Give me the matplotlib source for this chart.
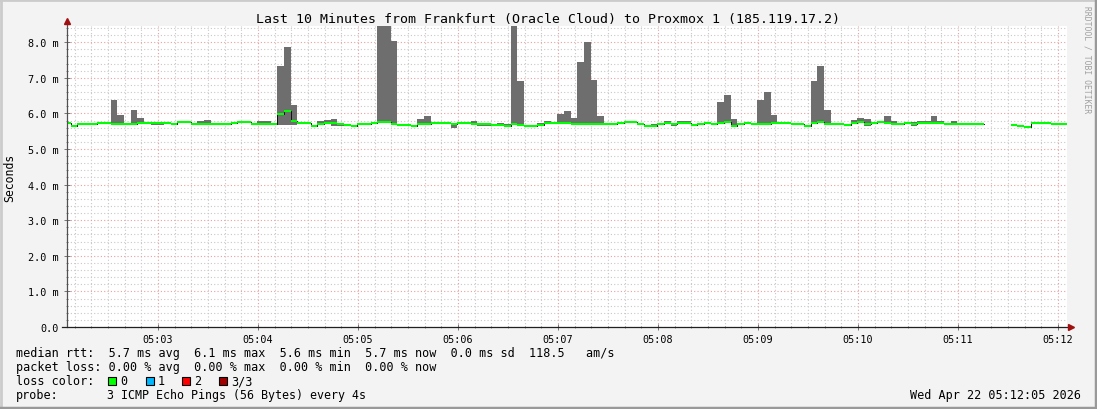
import numpy as np
import matplotlib
matplotlib.use("Agg")
import matplotlib.pyplot as plt
from matplotlib.patches import Rectangle
from matplotlib.lines import Line2D

plt.rcParams['font.family'] = ['DejaVu Sans Mono']

# samples every 4 s, start times in seconds after 05:00:00
t_first = 123.6
step = 4.0
nan = np.nan

# median rtt per sample (ms)
median = [
    5.74, 5.66, 5.69, 5.69, 5.69, 5.72, 5.74, 5.69, 5.69, 5.69,
    5.70, 5.72, 5.74, 5.72, 5.74, 5.74, 5.70, 5.77, 5.77, 5.71,
    5.69, 5.69, 5.71, 5.71, 5.71, 5.72, 5.75, 5.77, 5.71, 5.71,
    5.71, 5.69, 5.97, 6.08, 5.80, 5.72, 5.72, 5.66, 5.70, 5.72,
    5.72, 5.70, 5.67, 5.66, 5.71, 5.71, 5.74, 5.77, 5.77, 5.69,
    5.68, 5.68, 5.66, 5.69, 5.71, 5.72, 5.72, 5.72, 5.69, 5.72,
    5.72, 5.71, 5.70, 5.70, 5.68, 5.67, 5.66, 5.69, 5.67, 5.64,
    5.64, 5.67, 5.72, 5.72, 5.72, 5.72, 5.70, 5.70, 5.70, 5.70,
    5.70, 5.70, 5.70, 5.72, 5.75, 5.75, 5.69, 5.66, 5.66, 5.69,
    5.72, 5.70, 5.72, 5.72, 5.67, 5.70, 5.72, 5.69, 5.74, 5.77,
    5.66, 5.69, 5.72, 5.70, 5.69, 5.70, 5.72, 5.72, 5.72, 5.69,
    5.69, 5.64, 5.72, 5.75, 5.69, 5.69, 5.69, 5.67, 5.74, 5.76,
    5.69, 5.74, 5.77, 5.74, 5.70, 5.70, 5.72, 5.70, 5.72, 5.73,
    5.73, 5.72, 5.70, 5.70, 5.70, 5.70, 5.70, 5.70, nan, nan,
    nan, nan, 5.68, 5.65, 5.62, 5.72, 5.74, 5.74, 5.71, 5.71, 5.71,
]

# highest ping per sample (ms)
smoke_hi = [
    5.75, 5.67, 5.70, 5.74, 5.70, 5.73, 5.75, 6.38, 5.96, 5.74,
    6.10, 5.87, 5.75, 5.73, 5.75, 5.75, 5.74, 5.78, 5.78, 5.72,
    5.79, 5.82, 5.72, 5.72, 5.72, 5.73, 5.76, 5.78, 5.72, 5.79,
    5.79, 5.70, 7.33, 7.87, 6.23, 5.74, 5.75, 5.67, 5.79, 5.82,
    5.85, 5.73, 5.71, 5.67, 5.72, 5.72, 5.77, 8.60, 8.60, 8.03,
    5.69, 5.69, 5.67, 5.85, 5.92, 5.74, 5.74, 5.73, 5.70, 5.73,
    5.74, 5.79, 5.71, 5.71, 5.69, 5.72, 5.71, 8.60, 6.91, 5.65,
    5.68, 5.72, 5.79, 5.73, 5.98, 6.07, 5.87, 7.44, 8.01, 6.94,
    5.93, 5.71, 5.71, 5.73, 5.76, 5.76, 5.70, 5.67, 5.71, 5.70,
    5.79, 5.71, 5.79, 5.79, 5.68, 5.71, 5.73, 5.70, 6.33, 6.53,
    5.85, 5.70, 5.73, 5.72, 6.38, 6.60, 5.96, 5.73, 5.73, 5.70,
    5.70, 5.65, 6.91, 7.33, 6.10, 5.70, 5.70, 5.68, 5.81, 5.87,
    5.85, 5.75, 5.78, 5.92, 5.79, 5.74, 5.76, 5.76, 5.78, 5.80,
    5.93, 5.79, 5.71, 5.79, 5.71, 5.71, 5.71, 5.71, nan, nan,
    nan, nan, 5.69, 5.66, 5.63, 5.74, 5.75, 5.75, 5.72, 5.72, 5.72,
]

# lowest ping per sample (ms)
smoke_lo = [
    5.73, 5.63, 5.68, 5.68, 5.68, 5.71, 5.73, 5.68, 5.68, 5.68,
    5.69, 5.71, 5.73, 5.67, 5.67, 5.73, 5.69, 5.76, 5.76, 5.70,
    5.68, 5.68, 5.67, 5.67, 5.67, 5.71, 5.74, 5.76, 5.67, 5.70,
    5.70, 5.68, 5.68, 5.68, 5.68, 5.71, 5.71, 5.65, 5.69, 5.71,
    5.65, 5.65, 5.66, 5.65, 5.70, 5.70, 5.73, 5.76, 5.76, 5.68,
    5.64, 5.64, 5.65, 5.68, 5.70, 5.71, 5.71, 5.71, 5.60, 5.71,
    5.71, 5.70, 5.64, 5.64, 5.67, 5.66, 5.65, 5.68, 5.66, 5.63,
    5.63, 5.66, 5.71, 5.71, 5.71, 5.71, 5.69, 5.69, 5.69, 5.69,
    5.69, 5.69, 5.69, 5.71, 5.74, 5.74, 5.68, 5.64, 5.65, 5.68,
    5.71, 5.66, 5.71, 5.71, 5.65, 5.69, 5.71, 5.68, 5.73, 5.76,
    5.65, 5.68, 5.71, 5.69, 5.68, 5.69, 5.71, 5.71, 5.71, 5.68,
    5.68, 5.63, 5.71, 5.74, 5.68, 5.67, 5.68, 5.66, 5.73, 5.75,
    5.64, 5.73, 5.76, 5.70, 5.69, 5.69, 5.71, 5.65, 5.71, 5.72,
    5.72, 5.71, 5.69, 5.69, 5.69, 5.69, 5.69, 5.69, nan, nan,
    nan, nan, 5.67, 5.62, 5.59, 5.71, 5.73, 5.73, 5.70, 5.70, 5.70,
]

x_ticks = [180, 240, 300, 360, 420, 480, 540, 600, 660, 720]
x_labels = ["05:03", "05:04", "05:05", "05:06", "05:07",
            "05:08", "05:09", "05:10", "05:11", "05:12"]
y_ticks = [0, 1, 2, 3, 4, 5, 6, 7, 8]
y_labels = ["0.0", "1.0 m", "2.0 m", "3.0 m", "4.0 m",
            "5.0 m", "6.0 m", "7.0 m", "8.0 m"]

legend_lines = [
    "median rtt:  5.7 ms avg  6.1 ms max  5.6 ms min  5.7 ms now  0.0 ms sd  118.5   am/s",
    "packet loss: 0.00 % avg  0.00 % max  0.00 % min  0.00 % now",
    "loss color:",
    "probe:",
]
probe_text = "3 ICMP Echo Pings (56 Bytes) every 4s"
loss_labels = ["0", "1", "2", "3/3"]
loss_colors = ["#00ff00", "#00b8ff", "#ff0000", "#a00000"]

W, H = 1097, 410
fig = plt.figure(figsize=(W / 100, H / 100), dpi=100, facecolor="#f3f3f3")

def px(x, y):
    return x / W, 1 - y / H

ax = fig.add_axes([67 / W, 1 - 328 / H, 1000 / W, 301 / H])
ax.set_facecolor("white")

med = np.array(median)
hi = np.array(smoke_hi)
lo = np.array(smoke_lo)
starts = t_first + step * np.arange(len(med))

ok = ~np.isnan(med)
ax.bar(starts[ok], hi[ok] - lo[ok], bottom=lo[ok], width=step, align="edge",
       color="#6e6e6e", linewidth=0, zorder=3)
ax.step(np.append(starts, starts[-1] + step), np.append(med, med[-1]),
        where="post", color="#101010", lw=0.7, zorder=4)
ax.hlines(med[ok], starts[ok], starts[ok] + step, color="#00ff00", lw=1.5, zorder=5)

ax.set_xlim(125.4, 725.4)
ax.set_ylim(0, 8.455)

ax.set_xticks(x_ticks)
ax.set_xticklabels(x_labels)
ax.set_xticks(np.arange(130, 725, 10), minor=True)
ax.set_yticks(y_ticks)
ax.set_yticklabels(y_labels)
ax.set_yticks(np.arange(0, 8.45, 0.2), minor=True)

ax.grid(which="minor", color="#c8c8c8", ls=(0, (1, 2)), lw=0.8, zorder=1)
ax.grid(which="major", color="#e8a0a0", ls=(0, (1, 2)), lw=0.8, zorder=2)

ax.tick_params(which="both", direction="inout", color="#606060", labelsize=7.3)
ax.tick_params(which="major", length=4, width=0.6)
ax.tick_params(which="minor", length=2, width=0.5)
ax.tick_params(axis="x", pad=3)
ax.tick_params(axis="y", pad=4)

for s in ax.spines.values():
    s.set_visible(False)

# axes with arrows
ax.add_line(Line2D([0, 0], [0, 1.015], transform=ax.transAxes, color="#505050",
                   lw=0.9, clip_on=False, zorder=6))
ax.add_line(Line2D([-0.005, 1.003], [0, 0], transform=ax.transAxes, color="#202020",
                   lw=0.9, clip_on=False, zorder=6))
ax.plot([0], [1.015], marker="^", ms=5, color="#a01010", transform=ax.transAxes,
        clip_on=False, zorder=7)
ax.plot([1.004], [0], marker=">", ms=5, color="#a01010", transform=ax.transAxes,
        clip_on=False, zorder=7)

fig.text(*px(548, 19), "Last 10 Minutes from Frankfurt (Oracle Cloud) to Proxmox 1 (185.119.17.2)",
         ha="center", va="center", fontsize=9.5)
fig.text(*px(10, 178), "Seconds", rotation=90, ha="center", va="center", fontsize=8.3)
fig.text(*px(1087, 60), "RRDTOOL / TOBI OETIKER", rotation=270, ha="center", va="center",
         fontsize=5.8, color="#a0a0a0")

rows_y = [354, 368, 382, 396]
for line, yy in zip(legend_lines, rows_y):
    fig.text(*px(16, yy), line, ha="left", va="center", fontsize=8.5)
fig.text(*px(107, 396), probe_text, ha="left", va="center", fontsize=8.35)

box_x = [108, 146, 182, 219]
for bx, lab, col in zip(box_x, loss_labels, loss_colors):
    fig.add_artist(Rectangle(px(bx, 386), 8 / W, 8 / H, transform=fig.transFigure,
                             facecolor=col, edgecolor="black", lw=0.8))
    fig.text(*px(bx + 12, 382), lab, ha="left", va="center", fontsize=8.5)

fig.text(*px(1081, 396), "Wed Apr 22 05:12:05 2026", ha="right", va="center", fontsize=8.5)

# frame around the image
fig.add_artist(Line2D([0, 1], [1 - 1 / H, 1 - 1 / H], transform=fig.transFigure,
                      color="#cbcbcb", lw=2))
fig.add_artist(Line2D([1 / W, 1 / W], [0, 1], transform=fig.transFigure,
                      color="#cbcbcb", lw=2))
fig.add_artist(Line2D([0, 1], [1.5 / H, 1.5 / H], transform=fig.transFigure,
                      color="#999999", lw=2.5))
fig.add_artist(Line2D([1 - 1.5 / W, 1 - 1.5 / W], [0, 1], transform=fig.transFigure,
                      color="#999999", lw=2.5))

fig.savefig("out.png", dpi=100, facecolor=fig.get_facecolor())
